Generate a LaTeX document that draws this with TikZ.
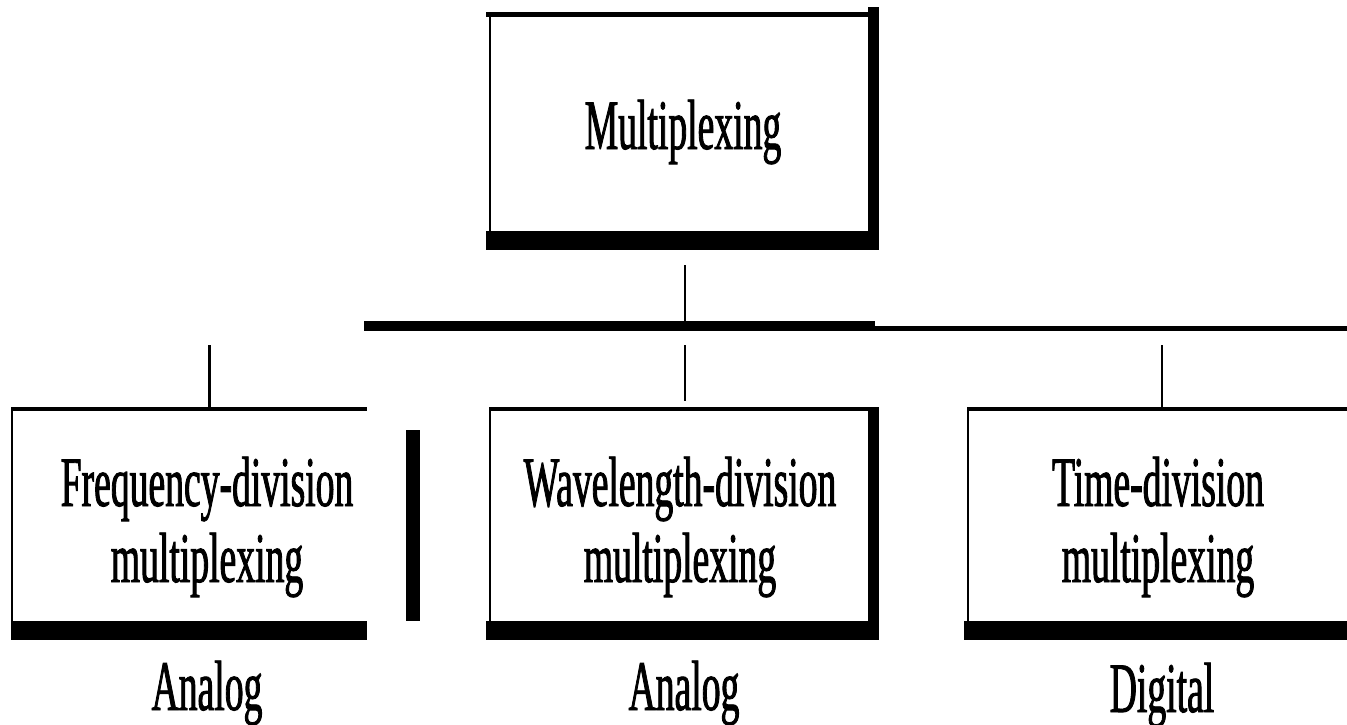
\documentclass[tikz,border=0pt]{standalone}
\usepackage{fontspec}
\newfontfamily\cond[FakeStretch=0.53,FakeBold=1.2]{Liberation Serif}
\tikzset{
  lbl/.style={font=\cond\fontsize{71}{76}\selectfont, inner sep=0pt, anchor=base, align=center},
  conn/.style={line width=2.5pt},
  thinedge/.style={line width=2.5pt},
  topedge/.style={line width=4.5pt},
  heavy/.style={fill=black}
}
\begin{document}
\begin{tikzpicture}[x=1pt,y=-1pt]
\useasboundingbox (0,0) rectangle (1347,725);
% ---- top box
\draw[topedge] (486,14.5) -- (868,14.5);
\draw[thinedge] (490,14) -- (490,231);
\fill[heavy] (868,7) rectangle (879,250);
\fill[heavy] (486,231) rectangle (879,250);
\node[lbl] (mux) at (683,149) {Multiplexing};
% ---- connectors
\coordinate (c0a) at (685,265);
\coordinate (c0b) at (685,321);
\draw[conn] (c0a) -- (c0b);
\fill[heavy] (364,321) rectangle (875,331);
\fill[heavy] (875,326) rectangle (1347,331);
\coordinate (c1a) at (209.5,345); \coordinate (c1b) at (209.5,407);
\coordinate (c2a) at (685,345);   \coordinate (c2b) at (685,401);
\coordinate (c3a) at (1162,345);  \coordinate (c3b) at (1162,407);
\draw[conn] (c1a) -- (c1b);
\draw[conn] (c2a) -- (c2b);
\draw[conn] (c3a) -- (c3b);
% ---- left box
\draw[topedge] (11,409) -- (367,409);
\draw[thinedge] (12,407) -- (12,621);
\fill[heavy] (11,621) rectangle (367,640);
\fill[heavy] (406,430) rectangle (420,621);
\node[lbl] (fdm) at (207,582) {Frequency-division\\multiplexing};
% ---- middle box
\draw[topedge] (489,409) -- (868,409);
\draw[thinedge] (490,407) -- (490,621);
\fill[heavy] (868,407) rectangle (879,640);
\fill[heavy] (486,621) rectangle (879,640);
\node[lbl] (wdm) at (680,582) {Wavelength-division\\multiplexing};
% ---- right box
\draw[topedge] (967,409) -- (1347,409);
\draw[thinedge] (968,407) -- (968,621);
\fill[heavy] (964,621) rectangle (1347,640);
\node[lbl] (tdm) at (1158,582) {Time-division\\multiplexing};
% ---- bottom labels
\node[lbl] (a1) at (207,710) {Analog};
\node[lbl] (a2) at (684,710) {Analog};
\node[lbl] (dg) at (1162,712) {Digital};
\end{tikzpicture}
\end{document}
